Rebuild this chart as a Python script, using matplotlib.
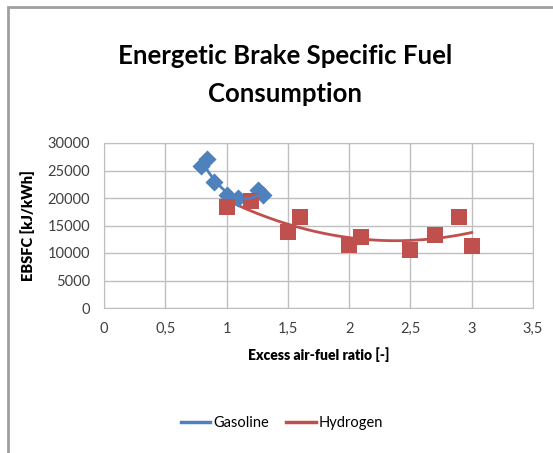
import matplotlib
matplotlib.use('Agg')
import matplotlib.pyplot as plt
import numpy as np
from matplotlib.lines import Line2D
from matplotlib.patches import Rectangle

plt.rcParams['font.family'] = ['Lato', 'DejaVu Sans']

# data
gas_x = [0.79, 0.84, 0.90, 1.00, 1.09, 1.26, 1.30]
gas_y = [25900, 27100, 22900, 20500, 20000, 21400, 20500]
h2_x = [1.0, 1.2, 1.5, 1.6, 2.0, 2.1, 2.5, 2.7, 2.9, 3.0]
h2_y = [18400, 19400, 13800, 16500, 11500, 13000, 10600, 13300, 16600, 11300]

xticks = [0, 0.5, 1, 1.5, 2, 2.5, 3, 3.5]
xlabels = ['0', '0,5', '1', '1,5', '2', '2,5', '3', '3,5']
yticks = [0, 5000, 10000, 15000, 20000, 25000, 30000]

blue = '#4F81BD'
red = '#C0504D'

fig = plt.figure(figsize=(5.53, 4.53), dpi=100)
ax = fig.add_axes([104/553, 1 - 308/453, 429/553, 165/453])

ax.scatter(gas_x, gas_y, marker='D', s=85, color=blue, zorder=3, linewidths=0)
ax.scatter(h2_x, h2_y, marker='s', s=130, color=red, zorder=3, linewidths=0)

# polynomial trend lines
pg = np.polyfit(gas_x, gas_y, 2)
xg = np.linspace(min(gas_x), max(gas_x), 50)
ax.plot(xg, np.polyval(pg, xg), color=blue, lw=2, zorder=4)
ph = np.polyfit(h2_x, h2_y, 2)
xh = np.linspace(min(h2_x), max(h2_x), 100)
ax.plot(xh, np.polyval(ph, xh), color=red, lw=2, zorder=2)

ax.set_xlim(0, 3.5)
ax.set_ylim(0, 30000)
ax.set_xticks(xticks)
ax.set_xticklabels(xlabels)
ax.set_yticks(yticks)
ax.set_yticklabels([str(t) for t in yticks])
ax.tick_params(length=0, labelsize=10.5, colors='#404040', pad=10)
ax.grid(True, color='#bfbfbf', lw=1)
ax.set_axisbelow(True)
for s in ax.spines.values():
    s.set_color('#bfbfbf')

ax.set_xlabel('Excess air-fuel ratio [-]', fontsize=10, fontweight='heavy', labelpad=8)
ax.set_ylabel('EBSFC [kJ/kWh]', fontsize=10.5, fontweight='heavy', labelpad=9)

fig.text(0.515, 1 - 75/453, 'Energetic Brake Specific Fuel\nConsumption', ha='center',
         va='center', fontsize=18.5, fontweight='bold', linespacing=1.75)

handles = [Line2D([], [], color=blue, lw=2.5), Line2D([], [], color=red, lw=2.5)]
fig.legend(handles, ['Gasoline', 'Hydrogen'], loc='center', bbox_to_anchor=(0.51, 1 - 423/453),
           ncol=2, frameon=False, fontsize=10.5, handlelength=2.0, handletextpad=0.2,
           columnspacing=1.2)

fig.patches.append(Rectangle((8/553, -0.1), 1.2, 1 - 7/453 + 0.1, transform=fig.transFigure,
                             fill=False, edgecolor='#a0a0a0', lw=2))

fig.savefig('out.png', dpi=100)
